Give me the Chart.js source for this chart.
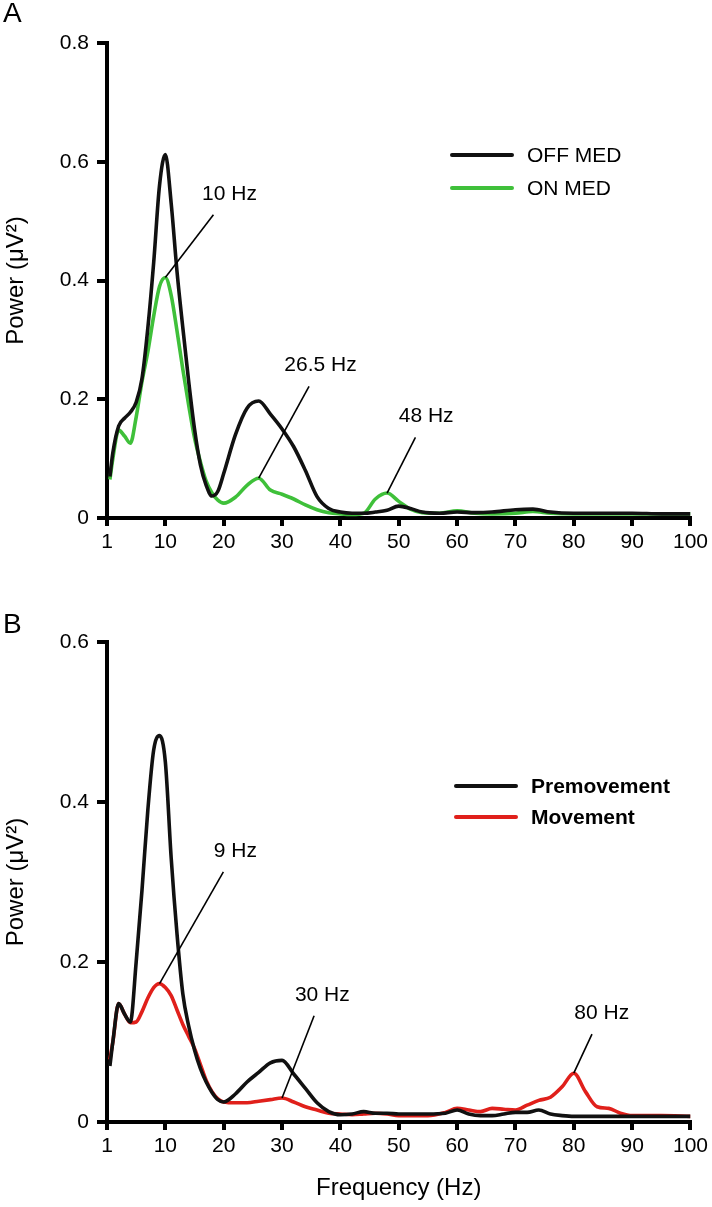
<!DOCTYPE html>
<html>
<head>
<meta charset="utf-8">
<script src="https://cdn.jsdelivr.net/npm/chart.js@4/dist/chart.umd.min.js"></script>
<style>
  html, body { margin: 0; padding: 0; background: #fff; }
  .wrap { position: relative; width: 712px; height: 1207px; }
  .panel { position: absolute; left: 0; width: 712px; }
</style>
</head>
<body>
<div class="wrap">
  <div class="panel" style="top:0;height:600px"><canvas id="chartA"></canvas></div>
  <div class="panel" style="top:600px;height:607px"><canvas id="chartB"></canvas></div>
</div>
<script>
/* ── data: panel A (medication) ── */
const freqA = [0.5,1,2,3,4,5,6,7,8,9,10,11,12,13,14,15,16,17,18,19,20,22,24,26,28,30,32,34,36,38,40,42,44,46,48,50,52,54,57,60,63,66,70,73,76,80,85,90,95,100];
const offMed = [0.07,0.11,0.155,0.168,0.178,0.195,0.235,0.32,0.43,0.56,0.612,0.53,0.415,0.32,0.23,0.15,0.09,0.055,0.037,0.045,0.075,0.14,0.185,0.197,0.175,0.15,0.12,0.08,0.036,0.016,0.01,0.008,0.008,0.01,0.013,0.02,0.016,0.01,0.008,0.01,0.009,0.01,0.014,0.015,0.01,0.008,0.008,0.008,0.007,0.007];
const onMed = [0.065,0.1,0.148,0.138,0.126,0.17,0.23,0.28,0.34,0.39,0.405,0.375,0.315,0.25,0.19,0.135,0.095,0.062,0.042,0.03,0.025,0.035,0.055,0.067,0.047,0.04,0.032,0.022,0.014,0.009,0.007,0.006,0.008,0.032,0.042,0.028,0.015,0.009,0.008,0.012,0.008,0.007,0.008,0.011,0.008,0.007,0.007,0.007,0.007,0.007];

/* ── data: panel B (movement) ── */
const freqB = [0.5,1,2,3,4,5,6,7,8,9,10,11,12,13,14,15,16,17,18,19,20,22,24,26,28,30,32,34,36,38,40,42,44,46,48,50,52,55,58,60,62,64,66,68,70,72,74,76,78,80,82,84,86,88,90,95,100];
const premovement = [0.07,0.1,0.148,0.135,0.125,0.2,0.29,0.39,0.465,0.483,0.45,0.33,0.235,0.16,0.12,0.09,0.067,0.05,0.037,0.028,0.025,0.035,0.05,0.062,0.074,0.077,0.06,0.042,0.024,0.013,0.009,0.01,0.013,0.011,0.011,0.01,0.01,0.01,0.011,0.015,0.01,0.008,0.008,0.01,0.012,0.012,0.015,0.01,0.008,0.007,0.007,0.007,0.007,0.007,0.007,0.007,0.007];
const movement = [0.078,0.1,0.148,0.135,0.124,0.125,0.138,0.155,0.168,0.173,0.168,0.158,0.14,0.122,0.107,0.092,0.072,0.052,0.038,0.029,0.025,0.024,0.024,0.026,0.028,0.03,0.025,0.019,0.015,0.011,0.01,0.009,0.01,0.011,0.01,0.008,0.008,0.008,0.012,0.017,0.015,0.013,0.017,0.016,0.015,0.021,0.027,0.031,0.044,0.061,0.038,0.019,0.017,0.011,0.008,0.008,0.007];

const xTicks = [0,10,20,30,40,50,60,70,80,90,100];
const yTicksA = [0,0.2,0.4,0.6,0.8];
const yTicksB = [0,0.2,0.4,0.6];

/* peak call-outs: which series, frequency of the peak, label centre (data units) */
const notesA = [
  { text: '10 Hz', series: 1, at: 10, lx: 21.0, ly: 0.546 },
  { text: '26.5 Hz', series: 1, at: 26, lx: 36.6, ly: 0.257 },
  { text: '48 Hz', series: 1, at: 48, lx: 54.7, ly: 0.171 },
];
const notesB = [
  { text: '9 Hz', series: 1, at: 9, lx: 22.0, ly: 0.339 },
  { text: '30 Hz', series: 1, at: 30, lx: 36.9, ly: 0.159 },
  { text: '80 Hz', series: 1, at: 80, lx: 84.8, ly: 0.136 },
];

const FONT = "'Liberation Sans', Arial, sans-serif";
const GREEN = '#3fc03a';
const RED = '#e0201b';

const toPts = (xs, ys) => xs.map((x, i) => ({ x, y: ys[i] }));

/* ── plugin: call-out lines + labels, legend, panel letter ── */
const decor = {
  id: 'decor',
  afterDatasetsDraw(chart, args, opts) {
    const { ctx, scales: { x, y } } = chart;
    ctx.save();
    // call-outs
    ctx.font = '21px ' + FONT;
    ctx.fillStyle = '#000';
    ctx.strokeStyle = '#000';
    ctx.lineWidth = 1.6;
    ctx.textAlign = 'center';
    ctx.textBaseline = 'middle';
    opts.notes.forEach(n => {
      const ds = chart.data.datasets[n.series].data;
      const p = ds.find(d => d.x === n.at);
      const px = x.getPixelForValue(p.x), py = y.getPixelForValue(p.y);
      const lx = x.getPixelForValue(n.lx), ly = y.getPixelForValue(n.ly);
      const t = (py - (ly + 21)) / (py - ly);
      ctx.beginPath();
      ctx.moveTo(px, py);
      ctx.lineTo(px + t * (lx - px), py + t * (ly - py));
      ctx.stroke();
      ctx.fillText(n.text, lx, ly);
    });
    // legend
    ctx.textAlign = 'left';
    ctx.font = opts.legendFont + ' ' + FONT;
    chart.data.datasets.forEach((d, i) => {
      const yy = opts.legendY + i * opts.legendGap;
      ctx.strokeStyle = d.borderColor;
      ctx.lineWidth = 4;
      ctx.lineCap = 'round';
      ctx.beginPath();
      ctx.moveTo(opts.legendX, yy);
      ctx.lineTo(opts.legendX + 60, yy);
      ctx.stroke();
      ctx.fillStyle = '#000';
      ctx.fillText(d.label, opts.legendX + 75, yy + 1);
    });
    // panel letter
    ctx.font = '28px ' + FONT;
    ctx.textBaseline = 'top';
    ctx.fillText(opts.letter, 3, opts.letterY);
    ctx.restore();
  }
};

function makeChart(id, xs, s1, s2, names, color2, yMax, yTicks, notes, extra) {
  const ctx = document.getElementById(id).getContext('2d');
  return new Chart(ctx, {
    type: 'line',
    data: {
      datasets: [
        { label: names[0], data: toPts(xs, s1), borderColor: '#111', borderWidth: 3.6,
          pointRadius: 0, cubicInterpolationMode: 'monotone', fill: false },
        { label: names[1], data: toPts(xs, s2), borderColor: color2, borderWidth: 3.6,
          pointRadius: 0, cubicInterpolationMode: 'monotone', fill: false },
      ],
    },
    options: {
      responsive: true,
      maintainAspectRatio: false,
      animation: false,
      layout: { padding: { top: extra.padTop, right: 20, left: 0, bottom: 0 } },
      plugins: {
        legend: { display: false },
        tooltip: { enabled: false },
        decor: { notes, ...extra },
      },
      scales: {
        x: {
          type: 'linear', min: 0, max: 100,
          afterBuildTicks: s => { s.ticks = xTicks.map(v => ({ value: v })); },
          afterFit: s => { s.height = extra.xHeight; },
          border: { display: true, color: '#000', width: 4 },
          grid: { drawOnChartArea: false, color: '#000', lineWidth: 4, tickLength: 8 },
          ticks: {
            color: '#000', font: { size: 21, family: FONT }, padding: 4, maxRotation: 0,
            callback: v => (v === 0 ? '1' : v),
          },
          title: {
            display: !!extra.xTitle, text: extra.xTitle || '', color: '#000',
            font: { size: 24, family: FONT }, padding: { top: 14 },
          },
        },
        y: {
          min: 0, max: yMax,
          afterBuildTicks: s => { s.ticks = yTicks.map(v => ({ value: v })); },
          afterFit: s => { s.width = 107; },
          border: { display: true, color: '#000', width: 4 },
          grid: { drawOnChartArea: false, color: '#000', lineWidth: 4, tickLength: 10 },
          ticks: { color: '#000', font: { size: 21, family: FONT }, padding: 8 },
          title: {
            display: true, text: 'Power (\u03bcV\u00b2)', color: '#000',
            font: { size: 24, family: FONT }, padding: { top: 2, bottom: 0 },
          },
        },
      },
    },
    plugins: [decor],
  });
}

Chart.defaults.font.family = FONT;

makeChart('chartA', freqA, offMed, onMed, ['OFF MED', 'ON MED'], GREEN, 0.8, yTicksA, notesA, {
  padTop: 43, xHeight: 82, letter: 'A', letterY: 0,
  legendX: 452, legendY: 155, legendGap: 33, legendFont: '21px',
});

makeChart('chartB', freqB, premovement, movement, ['Premovement', 'Movement'], RED, 0.6, yTicksB, notesB, {
  padTop: 42, xHeight: 85, xTitle: 'Frequency (Hz)', letter: 'B', letterY: 11,
  legendX: 456, legendY: 186, legendGap: 31, legendFont: 'bold 21px',
});
</script>
</body>
</html>
